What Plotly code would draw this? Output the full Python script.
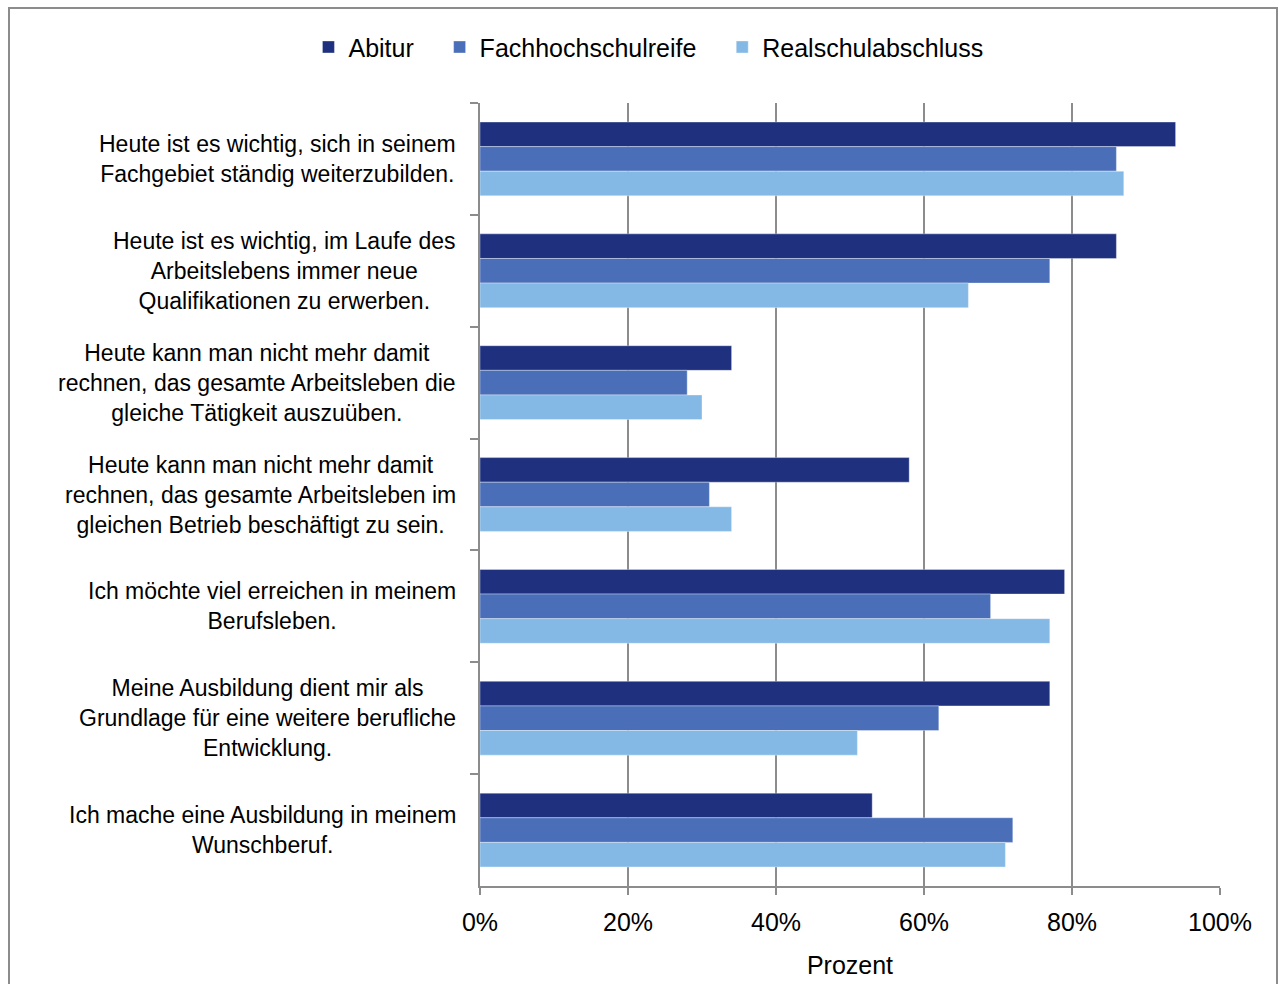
import plotly.graph_objects as go

# Aussagen (Kategorien), von oben nach unten
statements = [
    "Heute ist es wichtig, sich in seinem<br>Fachgebiet ständig weiterzubilden.",
    "Heute ist es wichtig, im Laufe des<br>Arbeitslebens immer neue<br>Qualifikationen zu erwerben.",
    "Heute kann man nicht mehr damit<br>rechnen, das gesamte Arbeitsleben die<br>gleiche Tätigkeit auszuüben.",
    "Heute kann man nicht mehr damit<br>rechnen, das gesamte Arbeitsleben im<br>gleichen Betrieb beschäftigt zu sein.",
    "Ich möchte viel erreichen in meinem<br>Berufsleben.",
    "Meine Ausbildung dient mir als<br>Grundlage für eine weitere berufliche<br>Entwicklung.",
    "Ich mache eine Ausbildung in meinem<br>Wunschberuf.",
]

# Zustimmung in Prozent je Schulabschluss
abitur = [94, 86, 34, 58, 79, 77, 53]
fachhochschulreife = [86, 77, 28, 31, 69, 62, 72]
realschulabschluss = [87, 66, 30, 34, 77, 51, 71]

x_ticks = [0, 20, 40, 60, 80, 100]
x_tick_labels = ["0%", "20%", "40%", "60%", "80%", "100%"]

series = [
    ("Abitur", abitur, "#1F317E"),
    ("Fachhochschulreife", fachhochschulreife, "#4A6FB8"),
    ("Realschulabschluss", realschulabschluss, "#84B9E6"),
]

FONT = "Liberation Sans, Arial, sans-serif"
GRID = "#8C8C8C"
PAD = "\u00a0" * 3  # zusätzlicher Abstand zwischen Legendeneinträgen

# Plotbereich in Pixeln
W, H = 1279, 984
L, R, T, B = 480, 59, 103, 98
PW, PH = W - L - R, H - T - B

fig = go.Figure()
for i, (name, vals, color) in enumerate(series):
    fig.add_trace(go.Bar(
        y=statements,
        x=vals,
        name=name + (PAD if i < len(series) - 1 else ""),
        orientation="h",
        marker=dict(color=color, line=dict(color="rgba(255,255,255,0.35)", width=1)),
    ))

# Kategorienbeschriftungen als zentrierte Textblöcke links der Achse
annotations = [
    dict(
        text=s, xref="paper", yref="y", x=0, y=s,
        xanchor="right", yanchor="middle", xshift=-22, align="center",
        showarrow=False, font=dict(family=FONT, size=23, color="black"),
    )
    for s in statements
]

fig.update_layout(
    width=W,
    height=H,
    barmode="group",
    bargap=0.34,
    bargroupgap=0,
    paper_bgcolor="white",
    plot_bgcolor="white",
    margin=dict(l=L, r=R, t=T, b=B, autoexpand=False),
    font=dict(family=FONT, size=22, color="black"),
    legend=dict(
        orientation="h",
        xref="container",
        yref="container",
        x=0.507,
        xanchor="center",
        y=0.952,
        yanchor="middle",
        font=dict(family=FONT, size=25, color="black"),
        traceorder="normal",
        itemwidth=30,
    ),
    xaxis=dict(
        range=[0, 100],
        automargin=False,
        tickvals=x_ticks,
        ticktext=x_tick_labels,
        showgrid=True,
        gridcolor=GRID,
        gridwidth=1.5,
        zeroline=False,
        showline=True,
        linecolor=GRID,
        linewidth=1.5,
        ticks="outside",
        ticklen=7,
        tickwidth=1.5,
        tickcolor=GRID,
        ticklabelstandoff=6,
        tickfont=dict(family=FONT, size=25, color="black"),
        title=dict(text="Prozent", font=dict(family=FONT, size=25, color="black"), standoff=22),
    ),
    yaxis=dict(
        autorange="reversed",
        automargin=False,
        showgrid=False,
        showline=True,
        linecolor=GRID,
        linewidth=1.5,
        ticks="outside",
        tickson="boundaries",
        ticklen=8,
        tickwidth=1.5,
        tickcolor=GRID,
        showticklabels=False,
    ),
    annotations=annotations,
    shapes=[
        dict(
            type="rect", xref="paper", yref="paper",
            x0=(9 - L) / PW, x1=(1277 - L) / PW,
            y0=(H - T - 995) / PH, y1=(H - B - 8) / PH,
            line=dict(color="#8C8C8C", width=2),
            fillcolor="rgba(0,0,0,0)",
            layer="below",
        )
    ],
)

fig.write_html("out.html")
